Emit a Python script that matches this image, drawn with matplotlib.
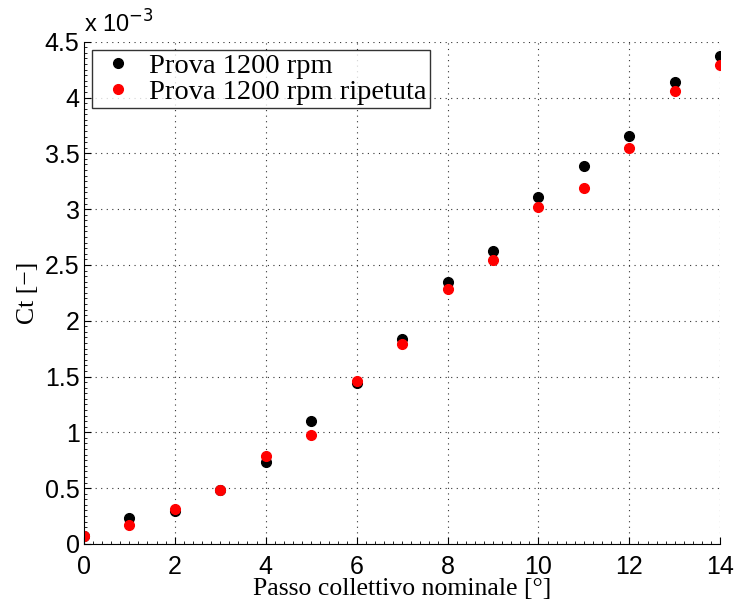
import matplotlib

matplotlib.use("Agg")
import matplotlib.pyplot as plt
from matplotlib.ticker import AutoMinorLocator, MultipleLocator
import numpy as np

# passo collettivo [deg] e Ct (x 1e-3)
passo = [0, 1, 2, 3, 4, 5, 6, 7, 8, 9, 10, 11, 12, 13, 14]
ct_prova = [0.07, 0.233, 0.296, 0.484, 0.735, 1.10, 1.443, 1.837, 2.35,
            2.625, 3.11, 3.39, 3.656, 4.14, 4.37]
ct_ripetuta = [0.07, 0.17, 0.314, 0.484, 0.79, 0.977, 1.46, 1.79, 2.285,
               2.545, 3.02, 3.19, 3.55, 4.06, 4.29]

SANS = ["Liberation Sans", "DejaVu Sans"]
SERIF = ["Liberation Serif", "DejaVu Serif"]

fig = plt.figure(figsize=(7.35, 6.05), dpi=100)
ax = fig.add_axes([0.114, 0.101, 0.866, 0.830])

ax.plot(passo, np.array(ct_prova) * 1e-3, "o", color="black", ms=7,
        label="Prova 1200 rpm")
ax.plot(passo, np.array(ct_ripetuta) * 1e-3, "o", color="red", ms=7,
        label="Prova 1200 rpm ripetuta")

ax.set_xlim(0, 14)
ax.set_ylim(0, 4.5e-3)
ax.xaxis.set_major_locator(MultipleLocator(2))
ax.xaxis.set_minor_locator(AutoMinorLocator(10))
ax.yaxis.set_minor_locator(AutoMinorLocator(10))
ax.set_xticks(np.arange(0, 15, 2))
ax.set_xticklabels([f"{v:g}" for v in ax.get_xticks()], family=SANS, fontsize=18)
ax.set_yticks(np.arange(0, 4.51e-3, 0.5e-3))
ax.set_yticklabels([f"{v * 1e3:g}" for v in ax.get_yticks()], family=SANS, fontsize=18)

ax.tick_params(which="both", direction="in", top=False, right=False)
ax.tick_params(which="major", length=5, width=0.8)
ax.tick_params(which="minor", length=2.5, width=0.6)
ax.tick_params(axis="x", pad=8)
ax.tick_params(axis="y", pad=3)

ax.spines["top"].set_visible(False)
ax.spines["right"].set_visible(False)
ax.grid(True, which="major", linestyle=(0, (1, 4)), color="#333333",
        linewidth=0.8)
ax.set_axisbelow(True)

ax.text(0.0, 1.008, r"x 10$^{-3}$", transform=ax.transAxes, fontsize=17,
        family=SANS, ha="left", va="bottom")

ax.set_xlabel("Passo collettivo nominale [°]", family=SERIF, fontsize=18.5,
              labelpad=-1)
ax.set_ylabel("Ct [−]", family=SERIF, fontsize=18.5, labelpad=4)

leg = ax.legend(loc="upper left", prop={"family": SERIF, "size": 20.5},
                frameon=True, fancybox=False, edgecolor="black",
                borderpad=0.1, handletextpad=0.3, labelspacing=0.0,
                borderaxespad=0.3, handlelength=1.6)
leg.get_frame().set_linewidth(1.0)

fig.savefig("out.png", dpi=100, facecolor="white")
